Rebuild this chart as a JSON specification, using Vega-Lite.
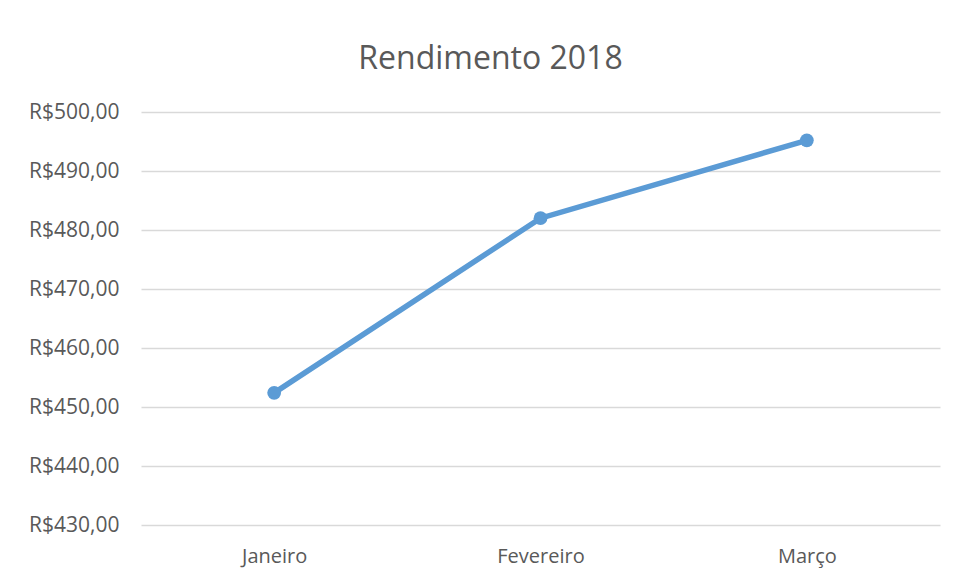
{
  "$schema": "https://vega.github.io/schema/vega-lite/v6.json",
  "autosize": "none",
  "width": 799,
  "height": 413,
  "padding": {"left": 141, "top": 112, "right": 15, "bottom": 54},
  "background": "white",
  "config": {"view": {"stroke": null}, "font": "Open Sans"},
  "title": {"text": "Rendimento 2018", "fontSize": 32, "font": "Open Sans", "fontWeight": "normal", "color": "#595959", "anchor": "middle", "dx": -50, "offset": 25},
  "data": {"values": [
    {"mes": "Janeiro", "valor": 452.4},
    {"mes": "Fevereiro", "valor": 482.0},
    {"mes": "Março", "valor": 495.2}
  ]},
  "encoding": {
    "x": {"field": "mes", "type": "nominal", "sort": null, "scale": {"paddingInner": 0, "paddingOuter": 0, "align": 0.5},
      "axis": {"title": null, "labelAngle": 0, "labelFontSize": 20, "labelColor": "#595959", "labelPadding": 21, "ticks": false, "domain": false, "grid": false, "labelFont": "Open Sans"}},
    "y": {"field": "valor", "type": "quantitative", "scale": {"domain": [430, 500], "nice": false, "zero": false},
      "axis": {"title": null, "values": [430, 440, 450, 460, 470, 480, 490, 500], "labelExpr": "'R$' + replace(format(datum.value, '.2f'), '.', ',')", "labelFontSize": 21, "labelColor": "#595959", "labelPadding": 22, "ticks": false, "domain": false, "gridColor": "#D9D9D9", "gridWidth": 1.5, "labelFont": "Open Sans"}}
  },
  "layer": [
    {"mark": {"type": "line", "color": "#5B9BD5", "strokeWidth": 5.5, "strokeCap": "round"}},
    {"mark": {"type": "point", "filled": true, "color": "#5B9BD5", "opacity": 1, "size": 190}}
  ]
}
